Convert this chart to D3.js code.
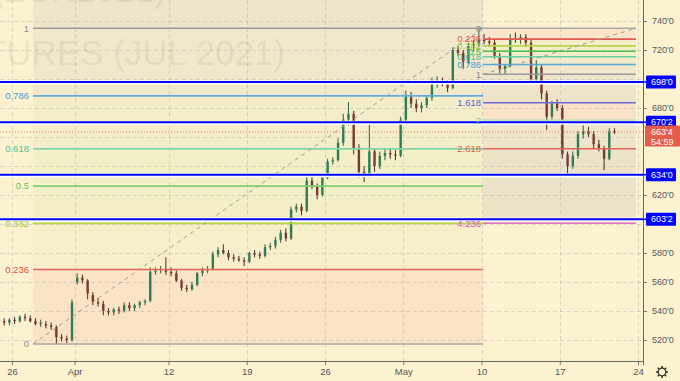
<!DOCTYPE html>
<html>
<head>
<meta charset="utf-8">
<script src="https://cdn.jsdelivr.net/npm/d3@7"></script>
<style>
  body { margin: 0; background: #fdf2d0; }
  svg { display: block; font-family: 'Liberation Sans', Arial, sans-serif; }
</style>
</head>
<body>
<div id="chart"></div>
<script>
const width = 680
const height = 381
const plotRight = 643
const plotBottom = 361

// trading days, index = position on the time axis
const days = ['Mar 24', 'Mar 25', 'Mar 26', 'Mar 29', 'Mar 30', 'Mar 31', 'Apr 1', 'Apr 5', 'Apr 6', 'Apr 7',
  'Apr 8', 'Apr 9', 'Apr 12', 'Apr 13', 'Apr 14', 'Apr 15', 'Apr 16', 'Apr 19', 'Apr 20', 'Apr 21',
  'Apr 22', 'Apr 23', 'Apr 26', 'Apr 27', 'Apr 28', 'Apr 29', 'Apr 30', 'May 3', 'May 4', 'May 5',
  'May 6', 'May 7', 'May 10', 'May 11', 'May 12', 'May 13', 'May 14', 'May 17', 'May 18', 'May 19',
  'May 20', 'May 21', 'May 24']
const tickDays = ['Mar 26', 'Apr 1', 'Apr 12', 'Apr 19', 'Apr 26', 'May 3', 'May 10', 'May 17', 'May 24']
const tickLabels = ['26', 'Apr', '12', '19', '26', 'May', '10', '17', '24']
const priceTicks = [520, 540, 560, 580, 600, 620, 640, 660, 680, 700, 720, 740]

// [open, high, low, close], 3 bars per day starting Mar 25
const firstDay = 1
const barsPerDay = 3
const candles = [
  [534, 536, 531, 533], [533, 535, 530, 532], [532, 535, 530, 534],
  [534, 536, 531, 533], [533, 537, 532, 536], [536, 538, 533, 535],
  [535, 537, 532, 533], [533, 535, 530, 531], [531, 534, 529, 532],
  [531, 533, 528, 530], [530, 532, 527, 529], [529, 530, 517.25, 522],
  [522, 524, 519, 521], [521, 523, 518, 520], [520, 548, 519, 546],
  [560, 566, 558, 563], [563, 565, 559, 561], [561, 562, 548, 552],
  [551, 553, 544, 546], [546, 549, 543, 545], [545, 547, 537, 540],
  [540, 542, 537, 539], [539, 542, 537, 541], [541, 543, 538, 540],
  [540, 546, 539, 544], [544, 546, 540, 542], [542, 545, 540, 544],
  [544, 547, 542, 546], [546, 548, 544, 547], [547, 570, 546, 567],
  [567, 570, 565, 568], [568, 571, 566, 569], [569, 577, 565, 567],
  [567, 570, 564, 566], [566, 568, 560, 561], [561, 562, 554, 556],
  [556, 558, 553, 555], [555, 560, 554, 558], [558, 567, 557, 566],
  [566, 570, 564, 568], [568, 571, 566, 569], [569, 581, 568, 579],
  [579, 584, 577, 582], [582, 586, 579, 580], [580, 582, 575, 577],
  [577, 579, 574, 576], [576, 578, 574, 575], [575, 577, 571, 574],
  [574, 581, 573, 580], [580, 582, 577, 579], [579, 581, 576, 578],
  [578, 586, 577, 584], [584, 587, 582, 585], [585, 591, 583, 589],
  [589, 596, 587, 594], [594, 597, 588, 590], [590, 612, 589, 610],
  [610, 614, 608, 612], [612, 614, 606, 609], [609, 633, 608, 630],
  [630, 633, 624, 626], [626, 628, 617, 620], [620, 634, 619, 632],
  [632, 645, 631, 643], [643, 646, 641, 644], [644, 659, 643, 656],
  [656, 676, 654, 672], [672, 684, 668, 676], [676, 678, 648, 652],
  [652, 655, 632, 636], [636, 640, 629, 634], [634, 670, 632, 650],
  [650, 652, 636, 640], [640, 650, 638, 647], [647, 652, 644, 649],
  [649, 652, 645, 648], [648, 651, 644, 647], [647, 674, 646, 672],
  [672, 692, 671, 688], [688, 691, 680, 683], [683, 686, 677, 680],
  [680, 684, 677, 682], [682, 689, 680, 687], [687, 701, 685, 697],
  [697, 702, 694, 698], [698, 701, 695, 697], [697, 699, 691, 694],
  [694, 722, 693, 720], [720, 723, 716, 718], [718, 720, 707, 712],
  [712, 725, 710, 723], [723, 727, 719, 724], [724, 735, 722, 727],
  [727, 731, 724, 726], [726, 729, 722, 725], [725, 727, 714, 716],
  [716, 718, 704, 707], [707, 710, 703.25, 709], [709, 731, 708, 728],
  [728, 732, 725, 727], [727, 731, 724, 729], [729, 731, 722, 725],
  [725, 727, 697, 700], [700, 713, 698, 708], [708, 710, 686, 690],
  [690, 692, 665, 674], [674, 685, 672, 683], [683, 686, 678, 680],
  [680, 682, 645, 648], [648, 650, 634, 640], [640, 650, 638, 647],
  [647, 664, 645, 662], [662, 668, 659, 664], [664, 667, 660, 662],
  [662, 664, 652, 655], [655, 658, 650, 652], [652, 654, 637, 645],
  [645, 666, 644, 664], [664, 666, 662, 663.5]
]

// fib retracement (left) and fib extension (right)
const leftFibLow = 517.25
const leftFibHigh = 735
const leftFibDays = [3.34, 32.1]
const leftFibLevels = [0, 0.236, 0.382, 0.5, 0.618, 0.786, 1]
const rightFibStart = 735
const rightFibEnd = 703.25
const rightFibDays = [32.1, 41.87]
const rightFibLevels = [0, 0.236, 0.382, 0.5, 0.618, 0.786, 1, 1.618, 2, 2.618, 4.236]

const keyLevels = [698, 670.25, 634, 603.25]
const lastPrice = 663.5
const countdown = '54:59'

// styles
const leftLineColors = ['#a8a8a8', '#e8675a', '#b6d74e', '#7fd06c', '#82d3a8', '#5eaddb', '#9c9c9c']
const leftLabelColors = ['#8a8a8a', '#e04f45', '#a6ca38', '#5dc65b', '#4cc28e', '#3f9fd6', '#8a8a8a']
const leftFills = ['#fbe3c5', '#f8eec9', '#f5efc7', '#f3efc7', '#f3edca', '#f1e8cb']
const leftTopFill = '#efe5ca'
const rightLineColors = ['#a8a8a8', '#e05a50', '#b5d64a', '#4cbf4c', '#66d0a0', '#5aa8d8', '#9a9a9a',
  '#6b6bd8', '#a3dac6', '#e0665a', '#e070c0']
const rightLabelColors = ['#8a8a8a', '#e04f45', '#a6ca38', '#45c045', '#4cc28e', '#3f9fd6', '#8a8a8a',
  '#5b5bd0', '#5cc8a6', '#e05a4c', '#d659b0']
const rightFills = ['#fae5c8', '#f6ecca', '#f3eec9', '#f2edca', '#f2ebcb', '#f0e7cc',
  '#eee4cb', '#fae2c6', '#eee5cb', '#ece3c9']

const fmt = p => Math.floor(p) + "'" + Math.round((p % 1) * 8)

const x = d3.scaleLinear().domain([0, 42]).range([-19.3, 638])
const y = d3.scaleLinear().domain([505.5, 754.5]).range([plotBottom, 0])

const svg = d3.select('#chart').append('svg')
  .attr('width', width)
  .attr('height', height)

svg.append('rect').attr('width', width).attr('height', height).attr('fill', '#fdf2d0')

svg.append('clipPath').attr('id', 'plot-clip')
  .append('rect').attr('width', plotRight).attr('height', plotBottom)

const plot = svg.append('g').attr('clip-path', 'url(#plot-clip)')

const leftPrice = l => leftFibLow + l * (leftFibHigh - leftFibLow)
const rightPrice = l => rightFibStart - l * (rightFibStart - rightFibEnd)

// fib fills
const lx0 = x(leftFibDays[0])
const lx1 = x(leftFibDays[1])
plot.append('rect')
  .attr('x', lx0).attr('width', lx1 - lx0)
  .attr('y', 0).attr('height', y(leftFibHigh))
  .attr('fill', leftTopFill)
leftFills.forEach((c, i) => {
  plot.append('rect')
    .attr('x', lx0).attr('width', lx1 - lx0)
    .attr('y', y(leftPrice(leftFibLevels[i + 1])))
    .attr('height', y(leftPrice(leftFibLevels[i])) - y(leftPrice(leftFibLevels[i + 1])))
    .attr('fill', c)
})

const rx0 = x(rightFibDays[0])
const rx1 = x(rightFibDays[1])
rightFills.forEach((c, i) => {
  plot.append('rect')
    .attr('x', rx0).attr('width', rx1 - rx0)
    .attr('y', y(rightPrice(rightFibLevels[i])))
    .attr('height', y(rightPrice(rightFibLevels[i + 1])) - y(rightPrice(rightFibLevels[i])))
    .attr('fill', c)
})

// grid
const tickIdx = tickDays.map(d => days.indexOf(d))
plot.selectAll('.hgrid').data(priceTicks).enter().append('line')
  .attr('x1', 0).attr('x2', plotRight)
  .attr('y1', d => Math.round(y(d)) + 0.5).attr('y2', d => Math.round(y(d)) + 0.5)
  .attr('stroke', 'rgba(150,150,175,0.32)').attr('stroke-dasharray', '4,3')
plot.selectAll('.vgrid').data(tickIdx).enter().append('line')
  .attr('x1', d => Math.round(x(d)) + 0.5).attr('x2', d => Math.round(x(d)) + 0.5)
  .attr('y1', 0).attr('y2', plotBottom)
  .attr('stroke', 'rgba(150,150,175,0.32)').attr('stroke-dasharray', '4,3')

// watermark
plot.append('text')
  .attr('x', 285).attr('y', 65)
  .attr('text-anchor', 'end')
  .attr('font-size', 35)
  .attr('fill', '#8a7a50').attr('fill-opacity', 0.13)
  .text('CORN FUTURES (JUL 2021)')
plot.append('text')
  .attr('x', 166).attr('y', 2)
  .attr('text-anchor', 'end')
  .attr('font-size', 35)
  .attr('fill', '#8a7a50').attr('fill-opacity', 0.13)
  .text('(ZCN2021)')

// candles
const bars = candles.map((c, i) => ({
  pos: firstDay + Math.floor(i / barsPerDay) + ((i % barsPerDay) + 0.5) / barsPerDay,
  o: c[0], h: c[1], l: c[2], c: c[3]
}))
const candle = plot.append('g').selectAll('g').data(bars).enter().append('g')
candle.append('line')
  .attr('x1', d => x(d.pos)).attr('x2', d => x(d.pos))
  .attr('y1', d => y(d.h)).attr('y2', d => y(d.l))
  .attr('stroke', d => d.c >= d.o ? '#2f5e45' : '#4a2a26')
  .attr('stroke-width', 1)
candle.append('rect')
  .attr('x', d => x(d.pos) - 1.2)
  .attr('width', 2.4)
  .attr('y', d => y(Math.max(d.o, d.c)))
  .attr('height', d => Math.max(1, Math.abs(y(d.o) - y(d.c))))
  .attr('fill', d => d.c >= d.o ? '#2e7d55' : '#7a3a33')

// fib lines and labels
leftFibLevels.forEach((l, i) => {
  const yy = y(leftPrice(l))
  plot.append('line')
    .attr('x1', lx0).attr('x2', lx1).attr('y1', yy).attr('y2', yy)
    .attr('stroke', leftLineColors[i]).attr('stroke-width', 1.6)
  svg.append('text')
    .attr('x', lx0 - 4).attr('y', yy).attr('dy', '0.35em')
    .attr('text-anchor', 'end').attr('font-size', 9.5)
    .attr('fill', leftLabelColors[i])
    .text(l)
})
rightFibLevels.forEach((l, i) => {
  const yy = y(rightPrice(l))
  plot.append('line')
    .attr('x1', rx0).attr('x2', rx1).attr('y1', yy).attr('y2', yy)
    .attr('stroke', rightLineColors[i]).attr('stroke-width', 1.6)
  svg.append('text')
    .attr('x', rx0 - 2).attr('y', yy).attr('dy', '0.35em')
    .attr('text-anchor', 'end').attr('font-size', 9.5)
    .attr('fill', rightLabelColors[i])
    .text(l)
})

// fib trend lines
plot.append('line')
  .attr('x1', lx0).attr('y1', y(leftFibLow))
  .attr('x2', lx1).attr('y2', y(leftFibHigh))
  .attr('stroke', '#a09a90').attr('stroke-dasharray', '4,4')
plot.append('line')
  .attr('x1', rx0).attr('y1', y(rightFibEnd))
  .attr('x2', rx1).attr('y2', y(rightFibStart))
  .attr('stroke', '#a09a90').attr('stroke-dasharray', '4,4')

// last price dotted line
plot.append('line')
  .attr('x1', 0).attr('x2', plotRight)
  .attr('y1', y(lastPrice)).attr('y2', y(lastPrice))
  .attr('stroke', '#e35d4a').attr('stroke-dasharray', '1,2').attr('stroke-opacity', 0.8)

// horizontal key levels
keyLevels.forEach(p => {
  plot.append('line')
    .attr('x1', 0).attr('x2', plotRight).attr('y1', y(p) + 0.5).attr('y2', y(p) + 0.5)
    .attr('stroke', '#ffffff').attr('stroke-width', 4)
  plot.append('line')
    .attr('x1', 0).attr('x2', plotRight).attr('y1', y(p)).attr('y2', y(p))
    .attr('stroke', '#0000ff').attr('stroke-width', 2)
})

// axes: tick labels hidden behind the price boxes are left out
const boxed = keyLevels.concat([lastPrice, lastPrice - 7])
const shownTicks = priceTicks.filter(t => boxed.every(p => Math.abs(y(t) - y(p)) > 9))
const yAxis = d3.axisRight(y).tickValues(shownTicks).tickSize(4).tickPadding(5).tickFormat(fmt)
const yg = svg.append('g')
  .attr('class', 'axis y-axis')
  .attr('transform', 'translate(' + plotRight + ',0)')
  .call(yAxis)
yg.select('.domain').remove()
yg.selectAll('text').attr('font-size', 9).attr('fill', '#555').attr('font-family', 'Liberation Sans, Arial')
yg.selectAll('line').attr('stroke', '#777')

const xAxis = d3.axisBottom(x).tickValues(tickIdx).tickSize(4).tickPadding(3)
  .tickFormat((d, i) => tickLabels[i])
const xg = svg.append('g')
  .attr('class', 'axis x-axis')
  .attr('transform', 'translate(0,' + plotBottom + ')')
  .call(xAxis)
xg.select('.domain').remove()
xg.selectAll('text').attr('font-size', 9.5).attr('fill', '#555').attr('font-family', 'Liberation Sans, Arial')
xg.selectAll('line').attr('stroke', '#777')

svg.append('line')
  .attr('x1', 0).attr('x2', plotRight + 0.5).attr('y1', plotBottom + 0.5).attr('y2', plotBottom + 0.5)
  .attr('stroke', '#666')
svg.append('line')
  .attr('x1', plotRight + 0.5).attr('x2', plotRight + 0.5).attr('y1', 0).attr('y2', plotBottom + 4)
  .attr('stroke', '#666')

// price labels on the axis
keyLevels.forEach(p => {
  const yy = y(p)
  svg.append('line')
    .attr('x1', plotRight).attr('x2', plotRight + 4).attr('y1', yy).attr('y2', yy)
    .attr('stroke', '#0000ff').attr('stroke-width', 1.5)
  svg.append('rect')
    .attr('x', plotRight + 3).attr('y', yy - 6.5)
    .attr('width', 30).attr('height', 13)
    .attr('rx', 1)
    .attr('fill', '#0000ff')
  svg.append('text')
    .attr('x', plotRight + 8).attr('y', yy).attr('dy', '0.35em')
    .attr('font-size', 9).attr('fill', '#fff')
    .text(fmt(p))
})

const ly = y(lastPrice)
svg.append('rect')
  .attr('x', plotRight + 2).attr('y', ly - 6.5)
  .attr('width', 35).attr('height', 21)
  .attr('rx', 1)
  .attr('fill', '#e35d4a')
svg.append('text')
  .attr('x', plotRight + 8).attr('y', ly).attr('dy', '0.35em')
  .attr('font-size', 9).attr('fill', '#fff')
  .text(fmt(lastPrice))
svg.append('text')
  .attr('x', plotRight + 8).attr('y', ly + 9.5).attr('dy', '0.35em')
  .attr('font-size', 9).attr('fill', '#fff')
  .text(countdown)

// settings gear
const gear = svg.append('g').attr('transform', 'translate(662,372)')
d3.range(8).forEach(i => {
  const a = i * Math.PI / 4
  gear.append('line')
    .attr('x1', Math.cos(a) * 3.5).attr('y1', Math.sin(a) * 3.5)
    .attr('x2', Math.cos(a) * 6).attr('y2', Math.sin(a) * 6)
    .attr('stroke', '#333').attr('stroke-width', 1.6)
})
gear.append('circle').attr('r', 3.8).attr('fill', '#fdf2d0').attr('stroke', '#333').attr('stroke-width', 1.2)
</script>
</body>
</html>
